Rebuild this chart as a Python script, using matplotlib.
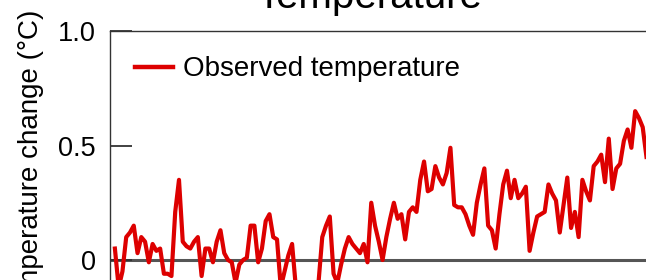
import matplotlib
matplotlib.use('Agg')
import matplotlib.pyplot as plt
import numpy as np

plt.rcParams['font.family'] = ['Liberation Sans', 'DejaVu Sans']

# observed global temperature change, one value per year
years = np.arange(1860, 2002)
temps = [
    0.05, -0.12, -0.05, 0.10, 0.12, 0.15, 0.03, 0.10, 0.08, -0.01,   # 1860s
    0.07, 0.04, 0.05, -0.06, -0.06, -0.07, 0.21, 0.35, 0.08, 0.06,   # 1870s
    0.05, 0.08, 0.10, -0.07, 0.05, 0.05, -0.01, 0.08, 0.13, 0.03,    # 1880s
    0.00, -0.01, -0.10, -0.02, 0.00, 0.01, 0.15, 0.15, -0.01, 0.05,  # 1890s
    0.17, 0.20, 0.10, 0.09, -0.12, -0.05, 0.02, 0.07, -0.12, -0.15,  # 1900s
    -0.14, -0.16, -0.12, -0.11, -0.10, 0.10, 0.15, 0.19, -0.06, -0.10,  # 1910s
    -0.02, 0.05, 0.10, 0.07, 0.05, 0.03, 0.07, -0.01, 0.25, 0.15,    # 1920s
    0.08, 0.00, 0.10, 0.18, 0.25, 0.18, 0.20, 0.09, 0.21, 0.23,      # 1930s
    0.21, 0.35, 0.43, 0.30, 0.31, 0.41, 0.36, 0.33, 0.38, 0.49,      # 1940s
    0.24, 0.23, 0.23, 0.20, 0.15, 0.11, 0.25, 0.33, 0.40, 0.15,      # 1950s
    0.13, 0.05, 0.20, 0.33, 0.39, 0.27, 0.35, 0.27, 0.29, 0.32,      # 1960s
    0.04, 0.12, 0.19, 0.20, 0.21, 0.33, 0.29, 0.26, 0.12, 0.24,      # 1970s
    0.36, 0.14, 0.21, 0.10, 0.35, 0.30, 0.26, 0.41, 0.43, 0.46,      # 1980s
    0.34, 0.53, 0.31, 0.40, 0.42, 0.52, 0.57, 0.49, 0.65, 0.62,      # 1990s
    0.58, 0.45,
]
yticks = [0, 0.5, 1.0]
ytick_labels = ['0', '0.5', '1.0']

W, H = 646, 280
fig = plt.figure(figsize=(W / 100, H / 100), dpi=100)

# axes runs past the bottom and right edge of the picture (cropped view)
px_left, px_top, px_right, px_bottom = 110, 31, 700, 489
ax = fig.add_axes([px_left / W, 1 - px_bottom / H,
                   (px_right - px_left) / W, (px_bottom - px_top) / H])
ax.set_xlim(1858.7, 1858.7 + (px_right - px_left) / 3.77)
ax.set_ylim(-1.0, 1.0)

red = '#dd0000'
ax.axhline(0, color='#555555', lw=2.2, zorder=1)
ax.plot(years, temps, color=red, lw=3.0, label='Observed temperature', zorder=2)

for side in ['right', 'bottom']:
    ax.spines[side].set_visible(False)
for side in ['left', 'top']:
    ax.spines[side].set_color('#333333')
    ax.spines[side].set_linewidth(1.0)

ax.set_xticks([])
ax.set_yticks(yticks)
ax.set_yticklabels(ytick_labels)
ax.tick_params(axis='y', direction='in', length=16, width=1.3, color='#333333',
               labelsize=19.5, pad=10)

leg = ax.legend(loc='upper left', bbox_to_anchor=(0.024, 0.969), frameon=False,
                fontsize=20, handlelength=1.35, handletextpad=0.36,
                borderaxespad=0.0)
for line in leg.get_lines():
    line.set_linewidth(3.2)

fig.text(369 / W, 1 - 8 / H, 'Temperature', ha='center', va='baseline',
         fontsize=29)
fig.text(31 / W, 1 - 10 / H, 'Temperature change (°C)', rotation=90,
         ha='center', va='top', fontsize=20)

fig.savefig('out.png', dpi=100)
